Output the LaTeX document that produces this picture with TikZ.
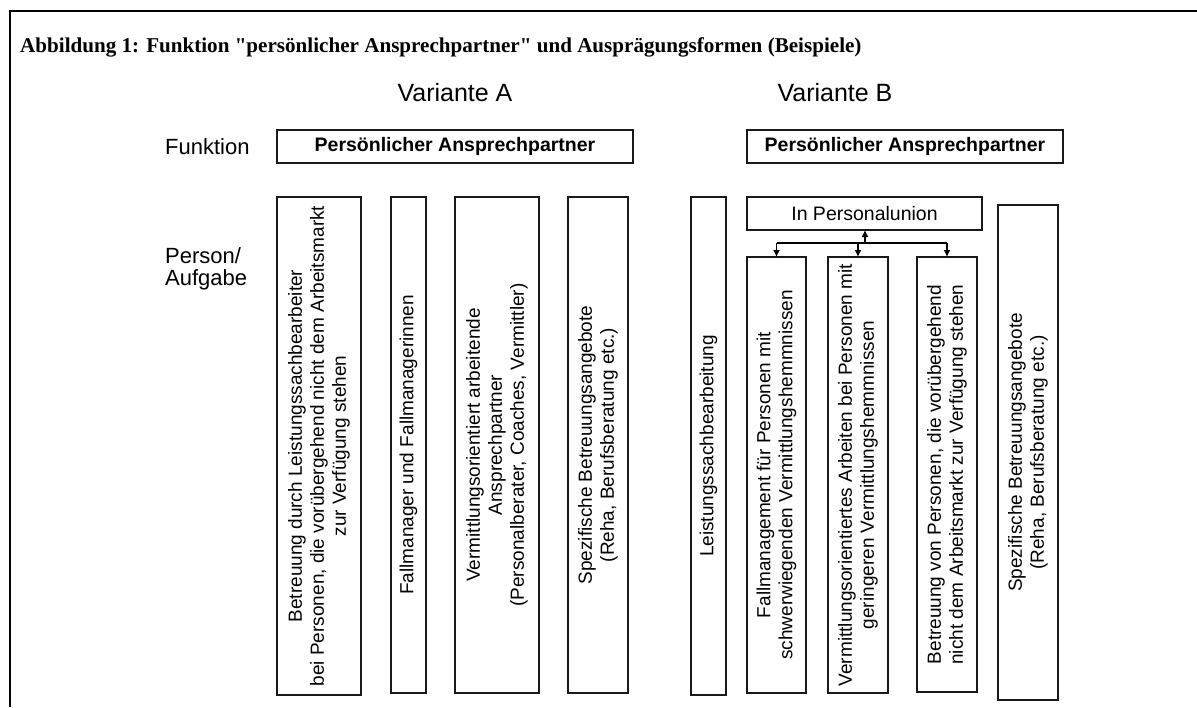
\documentclass[tikz,border=0pt]{standalone}
\usepackage{fontspec}
\setmainfont{Liberation Serif}[Ligatures=TeXOff]
\newfontfamily\arial{Liberation Sans}[Ligatures=TeXOff]
\usetikzlibrary{arrows.meta}
\tikzset{
  box/.style={draw=black!90, line width=1.3pt, inner sep=0pt, outer sep=0pt},
  vtext/.style={rotate=90, align=center, inner sep=0pt, font=\arial\fontsize{19}{22}\selectfont},
  htext/.style={inner sep=0pt, font=\arial\fontsize{19.5}{22}\selectfont},
  lbl/.style={inner sep=0pt, align=left, font=\arial\fontsize{22}{22.5}\selectfont},
  btext/.style={inner sep=0pt, font=\arial\bfseries\fontsize{19.5}{22}\selectfont},
  conn/.style={line width=1.5pt, -{Latex[length=7pt,width=7pt]}},
}
\begin{document}
\begin{tikzpicture}[x=1pt,y=-1pt]
\useasboundingbox (0,0) rectangle (1197,707);
% frame
\draw[line width=2pt] (10,707) -- (10,11) -- (1197,11);
% title
\node[anchor=west, inner sep=0pt, font=\bfseries\fontsize{21.1}{24}\selectfont] (title) at (20,47) {Abbildung 1: Funktion "persönlicher Ansprechpartner" und Ausprägungsformen (Beispiele)};
\node[lbl, font=\arial\fontsize{25}{27}\selectfont] (va) at (455,93) {Variante A};
\node[lbl, font=\arial\fontsize{25}{27}\selectfont] (vb) at (835,93) {Variante B};
\node[lbl, anchor=west] (fk) at (165,147) {Funktion};
\node[lbl, anchor=west] (pa) at (165,269) {Person/\\Aufgabe};
% function boxes
\node[box, minimum width=356, minimum height=33] (fa) at (455,146.5) {};
\node[btext] (fat) at (fa.center) {Persönlicher Ansprechpartner};
\node[box, minimum width=316, minimum height=33] (fb) at (905,146.5) {};
\node[btext] (fbt) at (fb.center) {Persönlicher Ansprechpartner};
% Variante A columns
\node[box, minimum width=84, minimum height=498] (a1) at (319,446) {};
\node[vtext] (a1t) at (a1.center) {Betreuung durch Leistungssachbearbeiter\\bei Personen, die vorübergehend nicht dem Arbeitsmarkt\\zur Verfügung stehen};
\node[box, minimum width=35, minimum height=496] (a2) at (408.5,445) {};
\node[vtext] (a2t) at (a2.center) {Fallmanager und Fallmanagerinnen};
\node[box, minimum width=84, minimum height=496] (a3) at (497,445) {};
\node[vtext] (a3t) at (a3.center) {Vermittlungsorientiert arbeitende\\Ansprechpartner\\(Personalberater, Coaches, Vermittler)};
\node[box, minimum width=60, minimum height=496] (a4) at (598,445) {};
\node[vtext] (a4t) at (a4.center) {Spezifische Betreuungsangebote\\(Reha, Berufsberatung etc.)};
% Variante B columns
\node[box, minimum width=35, minimum height=498] (b1) at (708.5,446) {};
\node[vtext] (b1t) at (b1.center) {Leistungssachbearbeitung};
\node[box, minimum width=235, minimum height=33] (pu) at (864.5,213.5) {};
\node[htext] (put) at (pu.center) {In Personalunion};
\node[box, minimum width=59, minimum height=436] (b2) at (776.5,475) {};
\node[vtext] (b2t) at (b2.center) {Fallmanagement für Personen mit\\schwerwiegenden Vermittlungshemmnissen};
\node[box, minimum width=60, minimum height=436] (b3) at (858,475) {};
\node[vtext] (b3t) at (b3.center) {Vermittlungsorientiertes Arbeiten bei Personen mit\\geringeren Vermittlungshemmnissen};
\node[box, minimum width=60, minimum height=435] (b4) at (947,474.5) {};
\node[vtext] (b4t) at (b4.center) {Betreuung von Personen, die vorübergehend\\nicht dem Arbeitsmarkt zur Verfügung stehen};
\node[box, minimum width=60, minimum height=495] (b5) at (1028,452.5) {};
\node[vtext] (b5t) at (b5.center) {Spezifische Betreuungsangebote\\(Reha, Berufsberatung etc.)};
% connectors
\coordinate (j) at (865,243);
\draw[line width=1.5pt] (b2.north |- j) -- (b4.north |- j);
\draw[conn] (j) -- (pu.south -| j);
\draw[conn] (b2.north |- j) -- (b2.north);
\draw[conn] (b3.north |- j) -- (b3.north);
\draw[conn] (b4.north |- j) -- (b4.north);
\end{tikzpicture}
\end{document}
